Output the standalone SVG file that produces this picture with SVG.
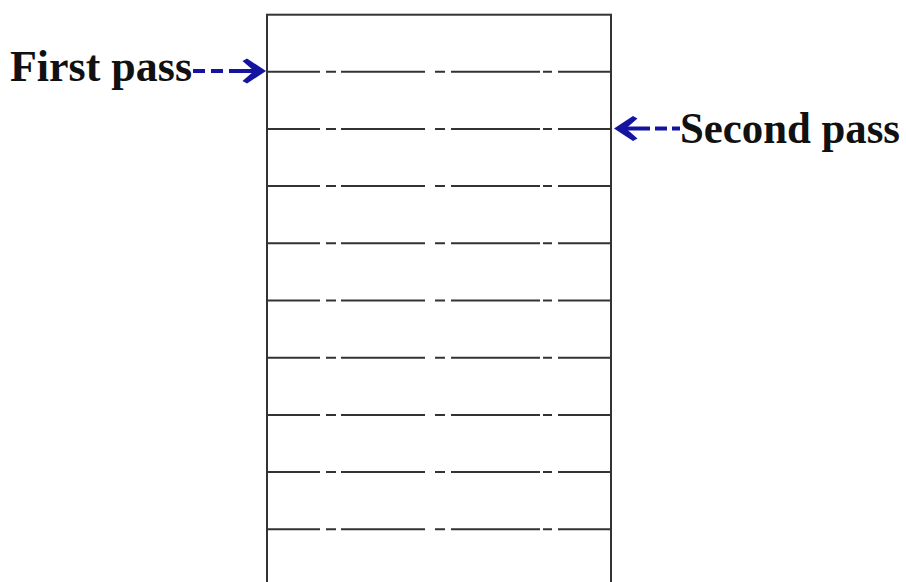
<svg xmlns="http://www.w3.org/2000/svg" width="906" height="582" viewBox="0 0 906 582">
<style>
.frame{fill:none;stroke:#333;stroke-width:2}
.row{fill:none;stroke:#333;stroke-width:2}
.lbl{font-family:"Liberation Serif","Times New Roman",serif;font-weight:bold;font-size:44px;fill:#111}
.dash{stroke:#1414a0;stroke-width:4;fill:none}
.head{fill:#1414a0}
</style>
<defs>
<path id="row" class="row" d="M267,0H320M326,0H336M341,0H425M435,0H445M451,0H540M543,0H552M558,0H611"/>
</defs>
<g id="table">
<rect class="frame" x="267" y="14.7" width="344" height="580"/>
<use href="#row" y="71.7"/>
<use href="#row" y="128.9"/>
<use href="#row" y="186.1"/>
<use href="#row" y="243.3"/>
<use href="#row" y="300.5"/>
<use href="#row" y="357.7"/>
<use href="#row" y="414.9"/>
<use href="#row" y="472.1"/>
<use href="#row" y="529.3"/>
</g>
<g id="first-pass">
<text class="lbl" x="10" y="81" textLength="182" lengthAdjust="spacingAndGlyphs">First pass</text>
</g>
<g id="second-pass">
<text class="lbl" x="680" y="143.3" textLength="220" lengthAdjust="spacingAndGlyphs">Second pass</text>
</g>
<g id="connectors">
<path class="dash" d="M193,71H205M211,71H223M229,71H258"/>
<path class="head" d="M266,71L247,58.5L242.5,61L254,71L242.5,81L247,83.5Z"/>
<path class="dash" d="M680,128.5H672M667,128.5H655M650,128.5H638M638,128.5H622"/>
<path class="head" d="M614,128.5L633,116L637.5,118.5L626,128.5L637.5,138.5L633,141Z"/>
</g>
</svg>
